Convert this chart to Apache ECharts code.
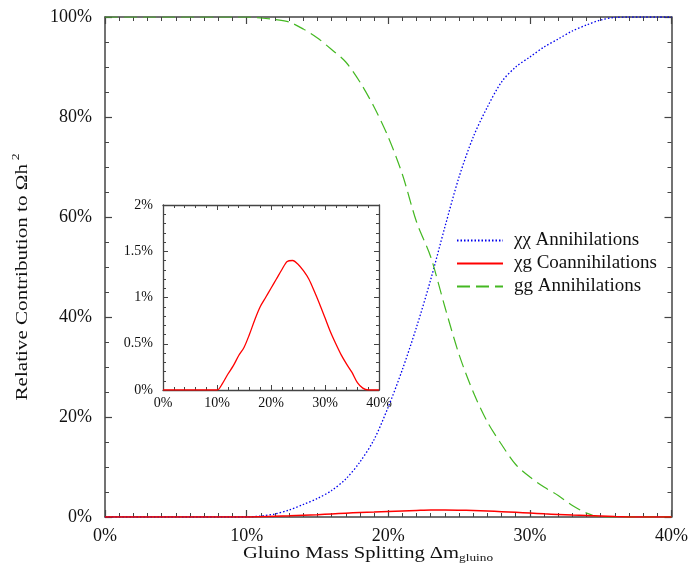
<!DOCTYPE html>
<html>
<head>
<meta charset="utf-8">
<script src="https://cdn.jsdelivr.net/npm/echarts@6/dist/echarts.min.js"></script>
<style>html,body{margin:0;padding:0;background:#fff}#c{width:691px;height:575px}</style>
</head>
<body>
<div id="c"></div>
<script>
// Gluino mass splitting (%)
var splitting = [0, 10, 11, 12, 13, 14, 15, 16, 17, 18, 19, 20, 21, 22, 23, 24, 25, 26, 27, 28, 29, 30, 31, 32, 33, 34, 35, 36, 37, 38, 39, 40];
// Relative contribution (%)
var chiChi = [0, 0, 0.2, 0.6, 1.4, 2.5, 3.7, 5.3, 7.6, 11, 15.5, 22, 29.5, 38, 47.5, 58, 68, 76, 82, 87, 90, 92, 94, 95.6, 97.2, 98.4, 99.4, 99.9, 100, 100, 100, 100];
var chiG   = [0, 0, 0.07, 0.17, 0.26, 0.37, 0.46, 0.6, 0.76, 0.9, 1.0, 1.1, 1.2, 1.3, 1.39, 1.4, 1.36, 1.29, 1.2, 1.07, 0.93, 0.78, 0.63, 0.5, 0.38, 0.28, 0.19, 0.08, 0.02, 0, 0, 0];
var gg     = [100, 100, 99.8, 99.5, 99, 97.6, 95.8, 93.5, 91, 87, 82, 76, 68.5, 59, 52, 42, 32.5, 25, 19, 14.5, 10.5, 8, 6, 4.3, 2.3, 0.8, 0, 0, 0, 0, 0, 0];
var names = ['χχ Annihilations', 'χg Coannihilations', 'gg Annihilations'];

function pairs(v){ return splitting.map(function(x,i){ return [x, v[i]]; }); }

var FONT = 'Liberation Serif';
var axisCol = '#444';

function xAx(grid, pos, show, o){
  return Object.assign({
    type:'value', gridIndex:grid, position:pos, min:0, max:40, interval:10,
    axisLine:{show:true, onZero:false, lineStyle:{color:axisCol, width:1.5}},
    axisTick:{show:true, inside:true, length:7, lineStyle:{color:axisCol, width:1.2}},
    minorTick:{show:true, splitNumber:10, length:4, lineStyle:{color:axisCol, width:1}},
    splitLine:{show:false},
    axisLabel:{show:show, formatter:'{value}%', fontFamily:FONT, fontSize:18, color:'#111', margin:10}
  }, o||{});
}
function yAx(grid, pos, show, o){
  return Object.assign({
    type:'value', gridIndex:grid, position:pos, min:0, max:100, interval:20,
    axisLine:{show:true, onZero:false, lineStyle:{color:axisCol, width:1.5}},
    axisTick:{show:true, inside:true, length:7, lineStyle:{color:axisCol, width:1.2}},
    minorTick:{show:true, splitNumber:4, length:4, lineStyle:{color:axisCol, width:1}},
    splitLine:{show:false},
    axisLabel:{show:show, formatter:'{value}%', fontFamily:FONT, fontSize:18, color:'#111', margin:13}
  }, o||{});
}

var insetTick = {show:true, inside:true, length:5, lineStyle:{color:axisCol, width:1}};
var insetMinor = {show:true, splitNumber:5, length:3, lineStyle:{color:axisCol, width:1}};
var insetLine = {show:true, onZero:false, lineStyle:{color:axisCol, width:1.3}};
var insetLabel = function(m){ return {show:true, formatter:function(v){return v+'%';}, fontFamily:FONT, fontSize:14, color:'#111', margin:m}; };

var chart = echarts.init(document.getElementById('c'));
chart.setOption({
  backgroundColor:'#fff',
  animation:false,
  grid:[
    {left:105, top:17, width:570, height:500},
    {left:163, top:205, width:216, height:185, backgroundColor:'#fff', show:true, borderWidth:0}
  ],
  xAxis:[
    xAx(0,'bottom',true),
    xAx(0,'top',false),
    xAx(1,'bottom',true,{axisTick:insetTick, minorTick:insetMinor, axisLabel:insetLabel(6), axisLine:insetLine}),
    xAx(1,'top',false,{axisTick:insetTick, minorTick:insetMinor, axisLine:insetLine})
  ],
  yAxis:[
    yAx(0,'left',true),
    yAx(0,'right',false),
    yAx(1,'left',true,{max:2, interval:0.5, axisTick:insetTick, minorTick:insetMinor, axisLabel:insetLabel(10), axisLine:insetLine}),
    yAx(1,'right',false,{max:2, interval:0.5, axisTick:insetTick, minorTick:insetMinor, axisLine:insetLine})
  ],
  legend:{
    orient:'vertical', left:456, top:231, padding:0, itemWidth:46, itemHeight:14, itemGap:4,
    data:names,
    itemStyle:{opacity:0},
    textStyle:{fontFamily:FONT, fontSize:19, color:'#111', padding:[0,0,0,6]}
  },
  series:[
    {name:names[0], type:'line', xAxisIndex:0, yAxisIndex:0, data:pairs(chiChi), symbol:'none', smooth:0.3,
     lineStyle:{color:'#0000ee', width:1.3, type:[1.5,2]}, itemStyle:{color:'#0000ee'}, z:3},
    {name:names[1], type:'line', xAxisIndex:0, yAxisIndex:0, data:pairs(chiG), symbol:'none', smooth:0.3,
     lineStyle:{color:'#ff0000', width:1.5, type:'solid'}, itemStyle:{color:'#ff0000'}, z:4},
    {name:names[2], type:'line', xAxisIndex:0, yAxisIndex:0, data:pairs(gg), symbol:'none', smooth:0.3,
     lineStyle:{color:'#44b822', width:1.2, type:[13,6]}, itemStyle:{color:'#44b822'}, z:3},
    {name:'inset', type:'line', xAxisIndex:2, yAxisIndex:2, data:pairs(chiG), symbol:'none', smooth:0.3,
     lineStyle:{color:'#ff0000', width:1.3}, z:6}
  ],
  graphic:[
    {type:'text', x:243, y:543, scaleX:1.21, z:10, style:{
      text:'Gluino Mass Splitting Δm{sub|gluino}', fontFamily:FONT, fontSize:17, fill:'#111',
      align:'left', verticalAlign:'top',
      rich:{sub:{fontFamily:FONT, fontSize:11, fill:'#111', padding:[10,0,0,0]}}
    }},
    {type:'text', x:23, y:277, rotation:Math.PI/2, scaleX:1.24, z:10, style:{
      text:'Relative Contribution to Ωh{sup|2}', fontFamily:FONT, fontSize:17, fill:'#111',
      align:'center', verticalAlign:'middle',
      rich:{sup:{fontFamily:FONT, fontSize:11, fill:'#111', padding:[0,0,13,3]}}
    }}
  ]
});
</script>
</body>
</html>
